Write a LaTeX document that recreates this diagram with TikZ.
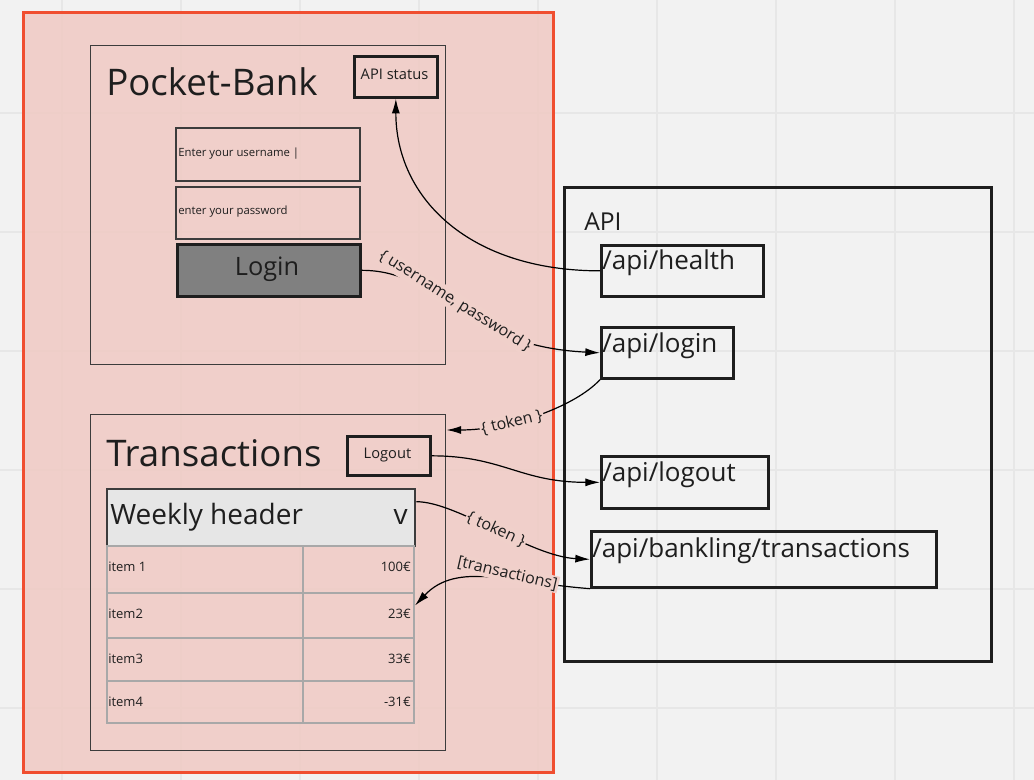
\documentclass[tikz,border=0pt]{standalone}
\usepackage{fontspec}
\setmainfont{Open Sans}
\usetikzlibrary{arrows.meta}
\definecolor{bg}{RGB}{242,242,242}
\definecolor{gridline}{RGB}{231,231,231}
\definecolor{redline}{RGB}{240,78,48}
\definecolor{pinkfill}{RGB}{240,202,195}
\definecolor{pinkbg}{RGB}{240,208,202}
\definecolor{ink}{RGB}{30,30,30}
\definecolor{frameline}{RGB}{60,60,60}
\definecolor{cellline}{RGB}{168,168,168}
\definecolor{btn}{RGB}{128,128,128}
\definecolor{hdr}{RGB}{230,230,230}
\newcommand{\fsTitle}{\fontsize{27.5}{32}\selectfont}
\newcommand{\fsHead}{\fontsize{21}{25}\selectfont}
\newcommand{\fsApi}{\fontsize{18.5}{22}\selectfont}
\newcommand{\fsPath}{\fontsize{19.5}{23}\selectfont}
\newcommand{\fsLogin}{\fontsize{19}{23}\selectfont}
\newcommand{\fsBtn}{\fontsize{11}{13}\selectfont}
\newcommand{\fsInput}{\fontsize{8.5}{10}\selectfont}
\newcommand{\fsItem}{\fontsize{9.75}{12}\selectfont}
\newcommand{\fsTag}{\fontsize{12}{14}\selectfont}
\begin{document}
\begin{tikzpicture}[x=0.75pt, y=-0.75pt,
    frame/.style={draw=frameline, line width=1.1pt, inner sep=0pt, anchor=north west},
    box/.style={draw=ink, line width=2pt, inner sep=0pt, anchor=north west},
    cell/.style={draw=cellline, line width=1.5pt, inner sep=0pt, anchor=north west},
    txt/.style={text=ink, inner sep=0pt},
    flow/.style={draw=black, line width=0.9pt, -{Latex[length=11pt,width=6pt]}},
    tag/.style={text=ink, font=\fsTag, fill=pinkbg, inner sep=1pt}]
  % background
  \fill[bg] (0,0) rectangle (1034,780);
  \useasboundingbox (0,0) rectangle (1034,780);
  \foreach \gx in {62,181,...,1014} \draw[gridline, line width=1.5pt] (\gx,0) -- (\gx,780);
  \foreach \gy in {113,232,...,708} \draw[gridline, line width=1.5pt] (0,\gy) -- (1034,\gy);
  %
  \node[draw=redline, line width=1.9pt, fill=pinkfill, fill opacity=0.85, inner sep=0pt, anchor=north west,
    minimum width=530*0.75pt, minimum height=760*0.75pt] (app) at (22,11) {};
  %
  % login page
  \node[frame, minimum width=355*0.75pt, minimum height=319*0.75pt] (pb) at (90,45) {};
  \node[txt, font=\fsTitle, anchor=base west] (pbt) at (106,96) {Pocket-Bank};
  \node[box, minimum width=83*0.75pt, minimum height=41*0.75pt] (st) at (353,55) {};
  \node[txt, font=\fsBtn, anchor=base] (stt) at (394.5,80) {API status};
  \node[frame, line width=1.3pt, minimum width=184*0.75pt, minimum height=53*0.75pt] (usr) at (175,127) {};
  \node[txt, font=\fsInput, anchor=base west] (usrt) at (178,157) {Enter your username |};
  \node[frame, line width=1.3pt, minimum width=184*0.75pt, minimum height=52*0.75pt] (pwd) at (175,186) {};
  \node[txt, font=\fsInput, anchor=base west] (pwdt) at (178,215) {enter your password};
  \node[box, fill=btn, minimum width=183*0.75pt, minimum height=52*0.75pt] (lgn) at (176,243) {};
  \node[txt, font=\fsLogin, anchor=base] (lgnt) at (267,276) {Login};
  %
  % transactions page
  \node[frame, minimum width=355*0.75pt, minimum height=336*0.75pt] (tr) at (90,414) {};
  \node[txt, font=\fsTitle, anchor=base west] (trt) at (106,466) {Transactions};
  \node[box, minimum width=83*0.75pt, minimum height=39*0.75pt] (lo) at (346,435) {};
  \node[txt, font=\fsBtn, anchor=base] (lot) at (387.5,458) {Logout};
  \node[frame, line width=1.8pt, fill=hdr, minimum width=308*0.75pt, minimum height=57*0.75pt] (wk) at (106,488) {};
  \node[txt, font=\fsHead, anchor=base west] (wkt) at (110,524) {Weekly header};
  \node[txt, font=\fsHead, anchor=base east] (wkv) at (408,524) {v};
  \foreach \i/\ry/\rh/\nm/\val in {1/545/47/item 1/100€, 2/592/45/item2/23€, 3/637/43/item3/33€, 4/680/42/item4/-31€}{
    \node[cell, minimum width=196*0.75pt, minimum height=\rh*0.75pt] (n\i) at (106,\ry) {};
    \node[cell, minimum width=111*0.75pt, minimum height=\rh*0.75pt] (v\i) at (302,\ry) {};
    \node[txt, font=\fsItem, anchor=base west] (nt\i) at (108,\ry+26) {\nm};
    \node[txt, font=\fsItem, anchor=base east] (vt\i) at (411,\ry+26) {\val};
  }
  %
  % api
  \node[box, line width=2.2pt, minimum width=427*0.75pt, minimum height=474*0.75pt] (api) at (563,186) {};
  \node[txt, font=\fsApi, anchor=base west] (apit) at (584,231) {API};
  \node[box, minimum width=162*0.75pt, minimum height=51*0.75pt] (hl) at (600,244) {};
  \node[txt, font=\fsPath, anchor=base west] (hlt) at (602,270) {/api/health};
  \node[box, minimum width=132*0.75pt, minimum height=51*0.75pt] (li) at (600,326) {};
  \node[txt, font=\fsPath, anchor=base west] (lit) at (602,352) {/api/login};
  \node[box, minimum width=167*0.75pt, minimum height=52*0.75pt] (lout) at (600,455) {};
  \node[txt, font=\fsPath, anchor=base west] (loutt) at (602,481) {/api/logout};
  \node[box, minimum width=345*0.75pt, minimum height=56*0.75pt] (tx) at (590,530) {};
  \node[txt, font=\fsPath, anchor=base west] (txt) at (592,557) {/api/bankling/transactions};
  %
  % calls
  \draw[flow] (hl.west) .. controls +(-130,0) and +(0,100) .. (st.south);
  \draw[flow] (lgn.east) .. controls +(80,0) and +(-140,-7) .. (li.west)
    node[tag, sloped, pos=0.47, above=-4pt] (c1) {\{ username, password \}};
  \draw[flow] (li.south west) .. controls +(-25,27) and +(63,0) .. ([yshift=-12pt]tr.north east)
    node[tag, sloped, pos=0.65] (c2) {\{ token \}};
  \draw[flow] (lo.east) .. controls +(71,0) and +(-80,0) .. (lout.west);
  \draw[flow] ([yshift=12pt]wk.east) .. controls +(41,0) and +(-60,-3) .. (tx.west)
    node[tag, sloped, pos=0.5] (c3) {\{ token \}};
  \draw[flow] (tx.south west) .. controls +(-80,-6) and +(42,-44.5) .. ([yshift=7.5pt]v2.east)
    node[tag, rotate=-13, pos=0.4, yshift=4.5pt] (c4) {[transactions]};
\end{tikzpicture}
\end{document}
